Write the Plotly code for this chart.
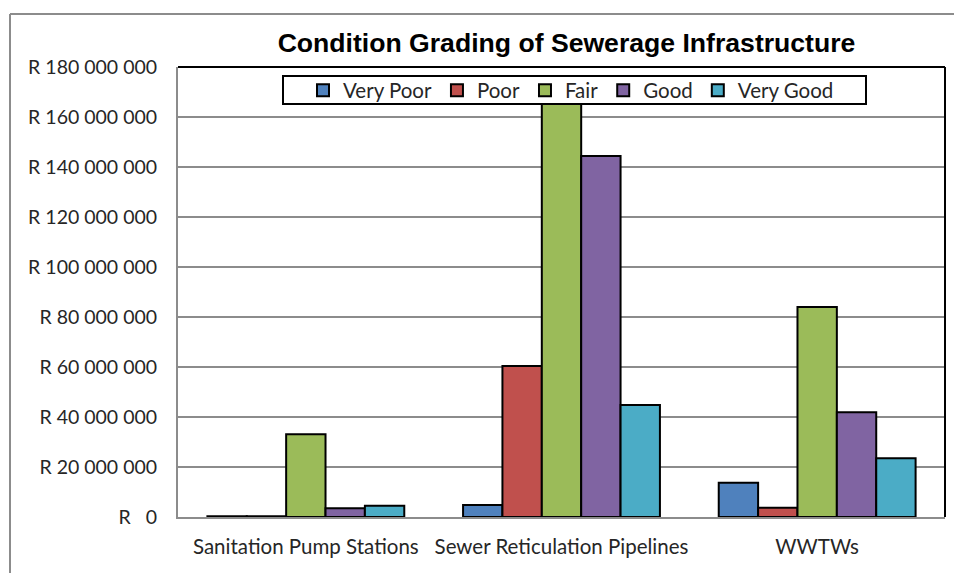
import plotly.graph_objects as go

categories = ["Sanitation Pump Stations", "Sewer Reticulation Pipelines", "WWTWs"]
series_names = ["Very Poor", "Poor", "Fair", "Good", "Very Good"]
very_poor = [300000, 4800000, 13700000]
poor = [300000, 60400000, 3700000]
fair = [33100000, 170000000, 84000000]
good = [3500000, 144400000, 41900000]
very_good = [4500000, 44800000, 23500000]
series_values = [very_poor, poor, fair, good, very_good]
colors = ["#4F81BD", "#C0504D", "#9BBB59", "#8064A2", "#4BACC6"]

tick_vals = [0, 20e6, 40e6, 60e6, 80e6, 100e6, 120e6, 140e6, 160e6, 180e6]
tick_text = ["R\u00a0\u00a0\u00a00", "R 20 000 000", "R 40 000 000", "R 60 000 000",
             "R 80 000 000", "R 100 000 000", "R 120 000 000", "R 140 000 000",
             "R 160 000 000", "R 180 000 000"]

FONT = "Lato"
TXT = "#262626"

# body margin is removed by post_script, so figure fills the window exactly
W, H = 954, 573
L, R, T, B = 178, W - 945, 67, H - 517
PW, PH = W - L - R, H - T - B


def px_x(page_x):
    return (page_x - L) / PW


def px_y(page_y):
    return (H - B - page_y) / PH


fig = go.Figure()
for name, vals, col in zip(series_names, series_values, colors):
    fig.add_trace(go.Bar(
        name=name, x=categories, y=vals,
        marker=dict(color=col, line=dict(color="#000000", width=2)),
    ))

fig.update_layout(
    width=W, height=H,
    margin=dict(l=L, r=R, t=T, b=B),
    paper_bgcolor="white", plot_bgcolor="white",
    barmode="group", bargap=0.23, bargroupgap=0,
    title=dict(text="<b>Condition Grading of Sewerage Infrastructure</b>",
               font=dict(family="Liberation Sans", size=26.6, color="#000000"),
               x=566.5 / W, xanchor="center", y=1 - 43 / H, yanchor="middle"),
    font=dict(family=FONT, size=20, color=TXT),
    legend=dict(orientation="h", x=px_x(571), xanchor="center",
                y=px_y(90.5), yanchor="middle",
                bgcolor="rgba(0,0,0,0)", borderwidth=0,
                font=dict(family=FONT, size=20.5, color=TXT),
                traceorder="normal"),
    showlegend=True,
)
fig.update_yaxes(range=[0, 180e6], tickvals=tick_vals, ticktext=tick_text,
                 showgrid=True, gridcolor="#8C8C8C", gridwidth=2,
                 showline=True, linecolor="#8C8C8C", linewidth=2,
                 zeroline=False, ticks="", ticklabelstandoff=15,
                 tickfont=dict(family=FONT, size=19.5, color=TXT), fixedrange=True)
fig.update_xaxes(showline=True, linecolor="#8C8C8C", linewidth=2, ticks="",
                 ticklabelstandoff=10,
                 tickfont=dict(family=FONT, size=20.5, color=TXT))

# plot area border (top and right) in black
fig.add_shape(type="line", xref="paper", yref="paper", x0=0, x1=1, y0=1, y1=1,
              line=dict(color="#000000", width=2))
fig.add_shape(type="line", xref="paper", yref="paper", x0=1, x1=1, y0=0, y1=1,
              line=dict(color="#000000", width=2))
# legend box
fig.add_shape(type="rect", xref="paper", yref="paper",
              x0=px_x(283), x1=px_x(866), y0=px_y(104), y1=px_y(76),
              fillcolor="white", line=dict(color="#000000", width=2), layer="above")
# outer chart border (left and top edges only; right/bottom lie outside the frame)
fig.add_shape(type="line", xref="paper", yref="paper",
              x0=px_x(10), x1=px_x(960), y0=px_y(14), y1=px_y(14),
              line=dict(color="#8C8C8C", width=2), layer="below")
fig.add_shape(type="line", xref="paper", yref="paper",
              x0=px_x(10), x1=px_x(10), y0=px_y(14), y1=px_y(600),
              line=dict(color="#8C8C8C", width=2), layer="below")

fig.write_html(
    "out.html",
    config={"displayModeBar": False},
    post_script=("document.body.style.margin='0';"
                 "document.body.style.overflow='hidden';"
                 "document.documentElement.style.overflow='hidden';"),
)
